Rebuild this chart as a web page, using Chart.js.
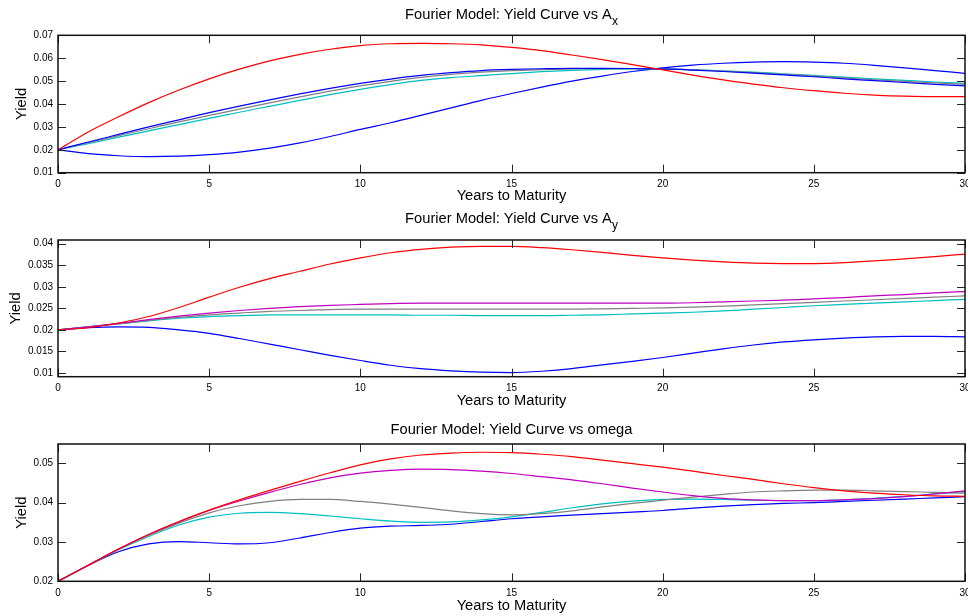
<!DOCTYPE html>
<html>
<head>
<meta charset="utf-8">
<title>Fourier Model: Yield Curves</title>
<script src="https://cdn.jsdelivr.net/npm/chart.js@4.4.1/dist/chart.umd.min.js"></script>
<style>
  body { margin: 0; background: #fff; }
  #wrap { position: relative; width: 968px; height: 616px; }
  canvas { position: absolute; left: 0; }
</style>
</head>
<body>
<div id="wrap">
  <canvas id="chartAx" width="968" height="205" style="top:0"></canvas>
  <canvas id="chartAy" width="968" height="205" style="top:205px"></canvas>
  <canvas id="chartOmega" width="968" height="206" style="top:410px"></canvas>
</div>
<script>
// years to maturity, one point per year
const years = [0,1,2,3,4,5,6,7,8,9,10,11,12,13,14,15,16,17,18,19,20,21,22,23,24,25,26,27,28,29,30];
const xTicks = [0, 5, 10, 15, 20, 25, 30];

// panel 1: yield curve vs A_x
const axRed   = [0.0200,0.0278,0.0344,0.0406,0.0461,0.0510,0.0552,0.0588,0.0617,0.0639,0.0655,0.0663,0.0665,0.0663,0.0658,0.0647,0.0633,0.0614,0.0594,0.0572,0.0549,0.0526,0.0505,0.0487,0.0471,0.0458,0.0447,0.0439,0.0434,0.0432,0.0432];
const axUpper = [0.0200,0.0234,0.0267,0.0300,0.0331,0.0362,0.0391,0.0418,0.0444,0.0468,0.0490,0.0509,0.0525,0.0537,0.0546,0.0551,0.0554,0.0556,0.0556,0.0555,0.0553,0.0548,0.0542,0.0535,0.0527,0.0519,0.0510,0.0502,0.0494,0.0486,0.0479];
const axGray  = [0.0200,0.0231,0.0262,0.0292,0.0322,0.0350,0.0378,0.0405,0.0431,0.0456,0.0479,0.0499,0.0516,0.0529,0.0539,0.0546,0.0550,0.0553,0.0554,0.0554,0.0553,0.0549,0.0544,0.0537,0.0530,0.0522,0.0514,0.0506,0.0499,0.0492,0.0486];
const axCyan  = [0.0200,0.0227,0.0255,0.0283,0.0310,0.0337,0.0364,0.0390,0.0416,0.0441,0.0464,0.0485,0.0503,0.0515,0.0524,0.0533,0.0541,0.0547,0.0551,0.0553,0.0553,0.0550,0.0545,0.0539,0.0532,0.0525,0.0517,0.0510,0.0503,0.0496,0.0490];
const axBlue  = [0.0200,0.0183,0.0174,0.0170,0.0172,0.0179,0.0190,0.0207,0.0230,0.0258,0.0289,0.0318,0.0350,0.0383,0.0416,0.0446,0.0474,0.0500,0.0522,0.0542,0.0558,0.0570,0.0578,0.0583,0.0585,0.0583,0.0578,0.0569,0.0558,0.0546,0.0534];
const axYTicks = [0.01, 0.02, 0.03, 0.04, 0.05, 0.06, 0.07];

// panel 2: yield curve vs A_y
const ayRed     = [0.0200,0.0205,0.0216,0.0231,0.0252,0.0276,0.0299,0.0319,0.0336,0.0353,0.0367,0.0379,0.0387,0.0392,0.0394,0.0394,0.0391,0.0386,0.0380,0.0373,0.0367,0.0362,0.0358,0.0355,0.0354,0.0354,0.0356,0.0360,0.0365,0.0370,0.0376];
const ayMagenta = [0.0200,0.0207,0.0215,0.0224,0.0232,0.0239,0.0245,0.0250,0.0254,0.0257,0.0259,0.0261,0.0262,0.0262,0.0262,0.0262,0.0262,0.0262,0.0262,0.0262,0.0262,0.0263,0.0265,0.0267,0.0269,0.0272,0.0275,0.0279,0.0282,0.0286,0.0289];
const ayGray    = [0.0200,0.0207,0.0214,0.0222,0.0229,0.0235,0.0239,0.0243,0.0245,0.0247,0.0248,0.0248,0.0248,0.0248,0.0248,0.0248,0.0248,0.0248,0.0249,0.0250,0.0251,0.0253,0.0255,0.0258,0.0261,0.0264,0.0267,0.0270,0.0273,0.0276,0.0279];
const ayCyan    = [0.0200,0.0207,0.0214,0.0221,0.0227,0.0231,0.0233,0.0235,0.0235,0.0235,0.0235,0.0235,0.0234,0.0234,0.0233,0.0233,0.0233,0.0234,0.0235,0.0237,0.0239,0.0241,0.0244,0.0248,0.0252,0.0256,0.0259,0.0262,0.0265,0.0268,0.0271];
const ayBlue    = [0.0200,0.0205,0.0207,0.0206,0.0200,0.0192,0.0180,0.0167,0.0154,0.0141,0.0129,0.0118,0.0110,0.0105,0.0102,0.0101,0.0104,0.0110,0.0119,0.0127,0.0136,0.0146,0.0156,0.0165,0.0172,0.0177,0.0181,0.0184,0.0185,0.0185,0.0184];
const ayYTicks = [0.01, 0.015, 0.02, 0.025, 0.03, 0.035, 0.04];

// panel 3: yield curve vs omega
const omRed     = [0.0200,0.0241,0.0282,0.0319,0.0352,0.0381,0.0407,0.0431,0.0454,0.0476,0.0496,0.0511,0.0521,0.0526,0.0528,0.0527,0.0523,0.0517,0.0508,0.0499,0.0490,0.0480,0.0469,0.0459,0.0448,0.0438,0.0430,0.0424,0.0420,0.0417,0.0416];
const omMagenta = [0.0200,0.0241,0.0282,0.0319,0.0351,0.0380,0.0404,0.0426,0.0446,0.0463,0.0475,0.0482,0.0485,0.0484,0.0480,0.0474,0.0466,0.0458,0.0448,0.0437,0.0427,0.0418,0.0411,0.0407,0.0405,0.0405,0.0407,0.0410,0.0415,0.0422,0.0430];
const omGray    = [0.0200,0.0241,0.0281,0.0317,0.0348,0.0374,0.0392,0.0403,0.0408,0.0408,0.0403,0.0396,0.0388,0.0379,0.0372,0.0369,0.0372,0.0379,0.0389,0.0398,0.0406,0.0414,0.0421,0.0427,0.0430,0.0432,0.0432,0.0430,0.0428,0.0426,0.0424];
const omCyan    = [0.0200,0.0241,0.0280,0.0314,0.0343,0.0363,0.0373,0.0375,0.0372,0.0366,0.0359,0.0353,0.0350,0.0351,0.0356,0.0364,0.0375,0.0387,0.0397,0.0404,0.0408,0.0409,0.0408,0.0406,0.0405,0.0405,0.0407,0.0411,0.0416,0.0422,0.0428];
const omBlue    = [0.0200,0.0240,0.0275,0.0295,0.0301,0.0298,0.0295,0.0298,0.0310,0.0324,0.0335,0.0340,0.0342,0.0345,0.0352,0.0359,0.0364,0.0368,0.0372,0.0376,0.0380,0.0386,0.0391,0.0395,0.0398,0.0400,0.0403,0.0406,0.0409,0.0412,0.0415];
const omYTicks = [0.02, 0.03, 0.04, 0.05];

const RED = '#ff0000', BLUE = '#0000ff', GRAY = '#808080', CYAN = '#00bfbf', MAGENTA = '#bf00bf';
const FONT = '"Liberation Sans", Arial, Helvetica, sans-serif';

// draws the matlab style box, inward ticks on all four sides and the title (with subscript)
const matlabBox = {
  id: 'matlabBox',
  afterDraw(chart, args, opts) {
    const {ctx, chartArea: a, scales: {x, y}} = chart;
    ctx.save();
    ctx.strokeStyle = '#262626';
    ctx.lineWidth = 1;
    ctx.beginPath();
    x.ticks.forEach(t => {
      const px = Math.round(x.getPixelForValue(t.value)) + 0.5;
      ctx.moveTo(px, a.bottom); ctx.lineTo(px, a.bottom - 8);
      ctx.moveTo(px, a.top); ctx.lineTo(px, a.top + 8);
    });
    y.ticks.forEach(t => {
      const py = Math.round(y.getPixelForValue(t.value)) + 0.5;
      ctx.moveTo(a.left, py); ctx.lineTo(a.left + 8, py);
      ctx.moveTo(a.right, py); ctx.lineTo(a.right - 8, py);
    });
    ctx.stroke();
    ctx.strokeStyle = '#111';
    ctx.lineWidth = 1.5;
    ctx.strokeRect(a.left, a.top, a.right - a.left, a.bottom - a.top);

    // title
    ctx.fillStyle = '#000';
    ctx.textBaseline = 'middle';
    ctx.textAlign = 'left';
    ctx.font = '14.7px ' + FONT;
    const mainW = ctx.measureText(opts.title).width;
    ctx.font = '12px ' + FONT;
    const subW = opts.sub ? ctx.measureText(opts.sub).width : 0;
    const cx = (a.left + a.right) / 2;
    const x0 = cx - (mainW + subW) / 2;
    ctx.font = '14.7px ' + FONT;
    ctx.fillText(opts.title, x0, opts.titleY);
    if (opts.sub) {
      ctx.font = '12px ' + FONT;
      ctx.fillText(opts.sub, x0 + mainW, opts.titleY + 7);
    }
    ctx.restore();
  }
};

function series(values, color) {
  return {
    data: years.map((t, i) => ({x: t, y: values[i]})),
    borderColor: color,
    borderWidth: 1.2,
    pointRadius: 0,
    fill: false,
    cubicInterpolationMode: 'monotone'
  };
}

function makeChart(id, cfg) {
  const canvas = document.getElementById(id);
  return new Chart(canvas, {
    type: 'line',
    data: { datasets: cfg.datasets },
    plugins: [matlabBox],
    options: {
      responsive: false,
      animation: false,
      layout: { padding: { top: cfg.top, right: 3, left: 0, bottom: 0 } },
      plugins: {
        legend: { display: false },
        tooltip: { enabled: false },
        matlabBox: { title: cfg.title, sub: cfg.sub, titleY: cfg.titleY }
      },
      scales: {
        x: {
          type: 'linear',
          min: 0, max: 30,
          grid: { display: false, drawTicks: false },
          border: { display: false },
          afterBuildTicks: s => { s.ticks = xTicks.map(v => ({value: v})); },
          afterFit: s => { s.height = cfg.xHeight; s.paddingLeft = 0; s.paddingRight = 0; },
          ticks: { color: '#000', padding: 6, maxRotation: 0, font: { family: FONT, size: 10 }, callback: v => String(v) },
          title: { display: true, text: 'Years to Maturity', color: '#000', padding: { top: 0, bottom: cfg.xTitlePad }, font: { family: FONT, size: 14.7 } }
        },
        y: {
          type: 'linear',
          min: cfg.yMin, max: cfg.yMax,
          grid: { display: false, drawTicks: false },
          border: { display: false },
          afterBuildTicks: s => { s.ticks = cfg.yTicks.map(v => ({value: v})); },
          afterFit: s => { s.width = 58; s.paddingTop = 0; s.paddingBottom = 0; },
          ticks: { color: '#000', padding: 5, font: { family: FONT, size: 10 }, callback: v => String(v) },
          title: { display: true, text: 'Yield', color: '#000', padding: { top: cfg.yTitlePad, bottom: 0 }, font: { family: FONT, size: 14.7 } }
        }
      }
    }
  });
}

makeChart('chartAx', {
  title: 'Fourier Model: Yield Curve vs A', sub: 'x', titleY: 15,
  top: 35.3, xHeight: 32.3, xTitlePad: 0, yTitlePad: 13.5,
  yMin: 0.01, yMax: 0.07, yTicks: axYTicks,
  datasets: [series(axRed, RED), series(axUpper, BLUE), series(axGray, GRAY), series(axCyan, CYAN), series(axBlue, BLUE)]
});

makeChart('chartAy', {
  title: 'Fourier Model: Yield Curve vs A', sub: 'y', titleY: 14,
  top: 35, xHeight: 33.3, xTitlePad: 0, yTitlePad: 7,
  yMin: 0.00914, yMax: 0.04086, yTicks: ayYTicks,
  datasets: [series(ayRed, RED), series(ayMagenta, MAGENTA), series(ayGray, GRAY), series(ayCyan, CYAN), series(ayBlue, BLUE)]
});

makeChart('chartOmega', {
  title: 'Fourier Model: Yield Curve vs omega', sub: '', titleY: 20,
  top: 34, xHeight: 34.7, xTitlePad: 1.2, yTitlePad: 13.5,
  yMin: 0.02, yMax: 0.0549, yTicks: omYTicks,
  datasets: [series(omRed, RED), series(omMagenta, MAGENTA), series(omGray, GRAY), series(omCyan, CYAN), series(omBlue, BLUE)]
});
</script>
</body>
</html>
